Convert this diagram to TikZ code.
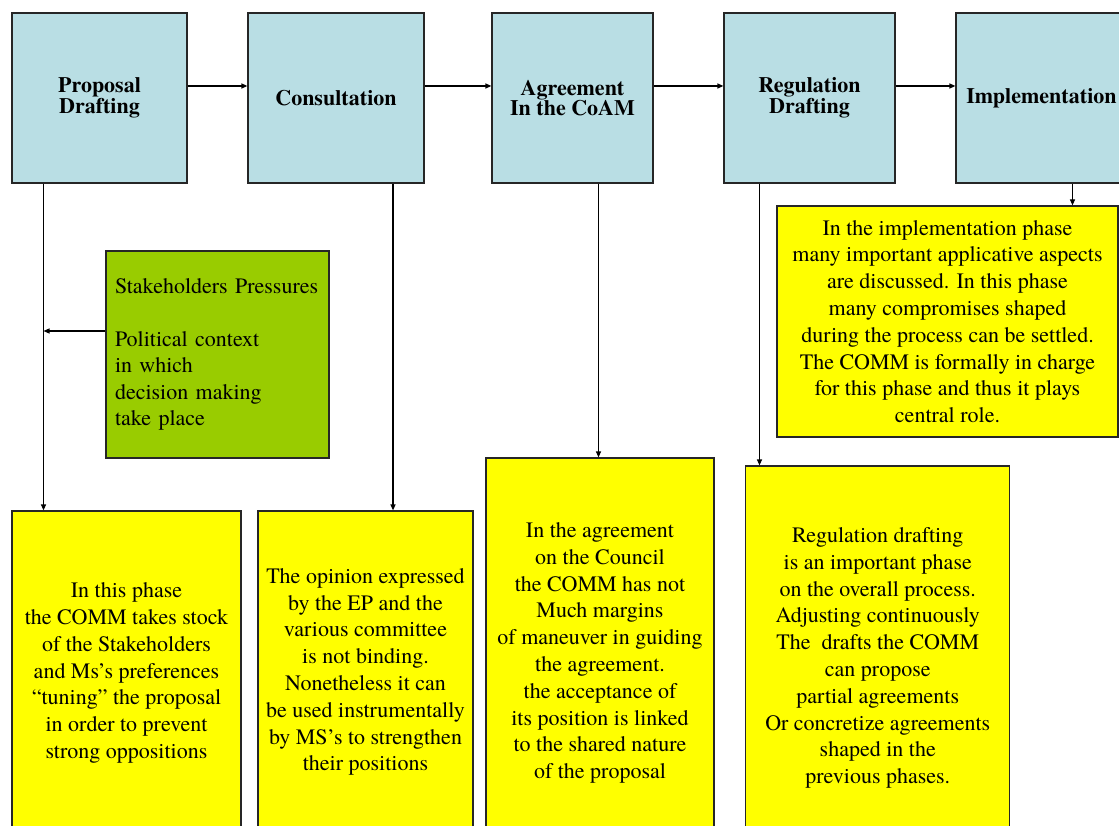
\documentclass[tikz,border=0pt]{standalone}
\usepackage{fontspec}
\setmainfont{TeX Gyre Termes}
\usetikzlibrary{arrows.meta}
\definecolor{phaseblue}{RGB}{185,222,228}
\definecolor{pressgreen}{RGB}{153,204,0}
\definecolor{noteyellow}{RGB}{255,255,0}

\begin{document}
\begin{tikzpicture}[x=1pt, y=-1pt,
    phase/.style={draw=black!85, line width=1.2pt, fill=phaseblue, minimum width=171pt,
        minimum height=170pt, align=center, font=\fontsize{22}{19.5}\selectfont\bfseries},
    note/.style={draw=black!85, line width=1.2pt, fill=noteyellow, align=center,
        font=\fontsize{22}{26.8}\selectfont},
    flow/.style={line width=1.2pt, -{Triangle[length=6pt,width=5pt]}}]
    \useasboundingbox[fill=white] (0,0) rectangle (1119,826);

    % phases
    \node[phase, minimum width=175pt] (draft) at (99.5,98) {Proposal\\Drafting};
    \node[phase, minimum width=176pt] (consult) at (336,98) {Consultation};
    \node[phase, minimum width=161pt] (agree) at (572.5,98) {Agreement\\In the CoAM};
    \node[phase] (regul) at (809.5,98) {Regulation\\Drafting};
    \node[phase] (impl) at (1041.5,98) {Implementation};

    % comments on each phase
    \node[note, minimum width=229pt, minimum height=324pt] (note1) at (126.5,673)
        {In this phase\\the COMM takes stock\\of the Stakeholders\\and Ms’s preferences\\“tuning” the proposal\\in order to prevent\\strong oppositions};
    \node[note, minimum width=215pt, minimum height=322pt] (note2) at (365.5,672)
        {The opinion expressed\\by the EP and the\\various committee\\is not binding.\\Nonetheless it can\\be used instrumentally\\by MS’s to strengthen\\their positions};
    \node[note, minimum width=228pt, minimum height=390pt] (note3) at (600,653)
        {In the agreement\\on the Council\\the COMM has not\\Much margins\\of maneuver in guiding\\the agreement.\\the acceptance of\\its position is linked\\to the shared nature\\of the proposal};
    \node[note, minimum width=264pt, minimum height=384pt] (note4) at (877.75,658)
        {Regulation drafting\\is an important phase\\on the overall process.\\Adjusting continuously\\The\ \ drafts the COMM\\can propose\\partial agreements\\Or concretize agreements\\shaped in the\\previous phases.};
    \node[note, minimum width=341pt, minimum height=231pt] (note5) at (947.5,321.5)
        {In the implementation phase\\many important applicative aspects\\are discussed. In this phase\\many compromises shaped\\during the process can be settled.\\The COMM is formally in charge\\for this phase and thus it plays\\central role.};

    % context
    \node[draw=black!85, line width=1.2pt, fill=pressgreen, minimum width=223pt, minimum height=207pt,
        text width=205pt, inner xsep=9pt, align=left, font=\fontsize{22}{26.4}\selectfont] (press) at (217.5,354.5)
        {Stakeholders Pressures\\[26.4pt]Political context\\in which\\decision making\\take place};

    % flow between phases
    \draw[flow] ([yshift=12pt]draft.east) -- ([yshift=12pt]consult.west);
    \draw[flow] ([yshift=12pt]consult.east) -- ([yshift=12pt]agree.west);
    \draw[flow] ([yshift=12pt]agree.east) -- ([yshift=12pt]regul.west);
    \draw[flow] ([yshift=12pt]regul.east) -- ([yshift=12pt]impl.west);

    % down to the comments
    \coordinate (trunk) at ([xshift=-56pt]draft.south);
    \draw[flow] (trunk) -- (trunk |- note1.north);
    \draw[flow] ([xshift=57pt]consult.south) -- ([xshift=57pt]consult.south |- note2.north);
    \draw[flow] ([xshift=26pt]agree.south) -- ([xshift=26pt]agree.south |- note3.north);
    \draw[flow] ([xshift=-50pt]regul.south) -- ([xshift=-50pt]regul.south |- note4.north);
    \draw[flow] ([xshift=31pt]impl.south) -- ([xshift=31pt]impl.south |- note5.north);
    \draw[flow] ([yshift=23.5pt]press.west) -- ([yshift=23.5pt]press.west -| trunk);
\end{tikzpicture}
\end{document}
